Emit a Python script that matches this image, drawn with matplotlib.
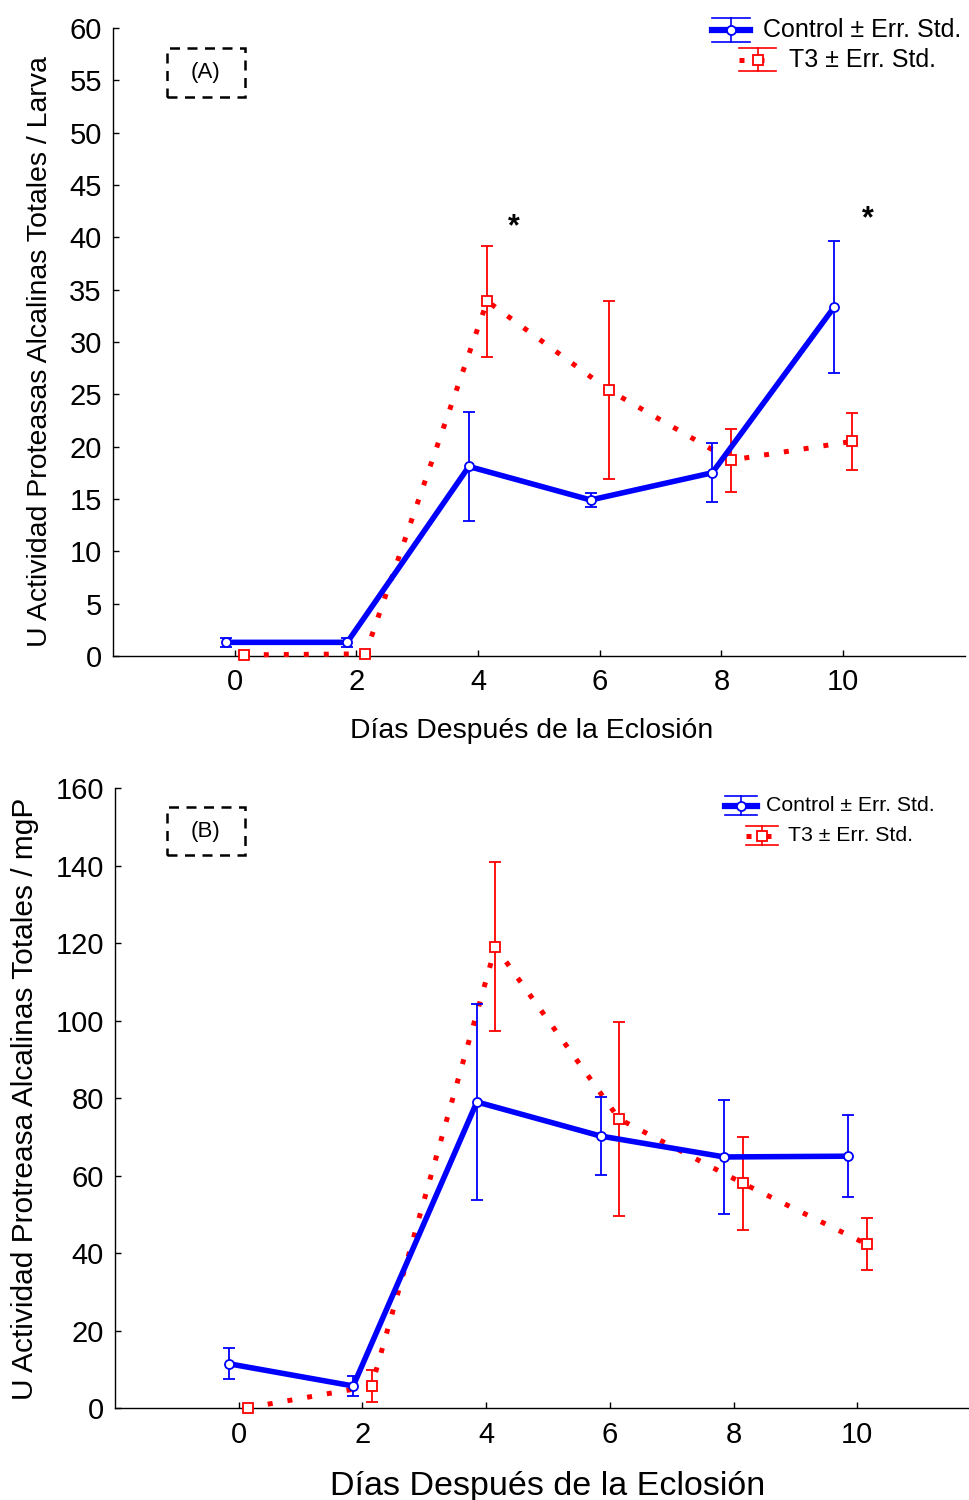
import numpy as np
import matplotlib
matplotlib.use("Agg")
import matplotlib.pyplot as plt
from matplotlib.patches import Rectangle
from matplotlib.lines import Line2D

plt.rcParams['font.family'] = ['Liberation Sans', 'DejaVu Sans']

days = [0, 2, 4, 6, 8, 10]
shift = 0.15

# Panel A: U / Larva
ctrl_a = [1.3, 1.3, 18.1, 14.9, 17.5, 33.3]
ctrl_a_err = [0.4, 0.4, 5.2, 0.7, 2.8, 6.3]
t3_a = [0.1, 0.2, 33.9, 25.4, 18.7, 20.5]
t3_a_err = [0.0, 0.0, 5.3, 8.5, 3.0, 2.7]
stars_a = [(4.59, 41.0), (10.41, 41.7)]

# Panel B: U / mgP
ctrl_b = [11.4, 5.7, 79.0, 70.2, 64.8, 65.0]
ctrl_b_err = [4.0, 2.6, 25.3, 10.0, 14.8, 10.6]
t3_b = [0.1, 5.7, 119.0, 74.6, 58.0, 42.3]
t3_b_err = [0.0, 4.2, 21.8, 25.0, 12.0, 6.8]

xlabel = 'Días Después de la Eclosión'
ylabel_a = 'U Actividad Proteasas Alcalinas Totales / Larva'
ylabel_b = 'U Actividad Protreasa Alcalinas Totales / mgP'
legend_labels = ['Control ± Err. Std.', 'T3 ± Err. Std.']

BLUE = '#0000ff'
RED = '#ff0000'


def draw_series(ax, ctrl, ctrl_err, t3, t3_err):
    xc = np.array(days) - shift
    xt = np.array(days) + shift
    ax.errorbar(xt, t3, yerr=t3_err, color=RED, lw=3.6, ls=(0, (1, 3)),
                dash_capstyle='butt', marker='s', ms=6.5, mfc='white', mec=RED,
                mew=1.3, ecolor=RED, elinewidth=1.3, capsize=4.5, capthick=1.3,
                zorder=3, clip_on=False)
    ax.errorbar(xc, ctrl, yerr=ctrl_err, color=BLUE, lw=4, marker='o', ms=6.5,
                mfc='white', mec=BLUE, mew=1.3, ecolor=BLUE, elinewidth=1.3,
                capsize=4.5, capthick=1.3, zorder=4, clip_on=False)


def draw_legend(ax, entries, fs):
    # entries: (x0, x1, yc, half, text_x) in axes fraction
    for i, (x0, x1, yc, half, tx) in enumerate(entries):
        col = BLUE if i == 0 else RED
        xm = (x0 + x1) / 2
        if i == 0:
            ax.add_line(Line2D([x0, x1], [yc, yc], color=col, lw=4.5,
                               transform=ax.transAxes, clip_on=False))
            mk = 'o'
        else:
            ax.add_line(Line2D([x0, x1], [yc, yc], color=col, lw=3.6,
                               ls=(0, (1, 3)), dash_capstyle='butt',
                               transform=ax.transAxes, clip_on=False))
            mk = 's'
        for yy in (yc - half, yc + half):
            ax.add_line(Line2D([x0, x1], [yy, yy], color=col, lw=1.2,
                               transform=ax.transAxes, clip_on=False))
        ax.add_line(Line2D([xm, xm], [yc - half, yc + half], color=col, lw=1.2,
                           transform=ax.transAxes, clip_on=False))
        ax.add_line(Line2D([xm], [yc], marker=mk, ms=6.5, mfc='white', mec=col,
                           mew=1.3, transform=ax.transAxes, clip_on=False))
        ax.text(tx, yc, legend_labels[i], transform=ax.transAxes, fontsize=fs,
                ha='left', va='center')


def style_axes(ax, ylim, ystep, tick_fs):
    ax.set_xlim(-2, 12)
    ax.set_ylim(*ylim)
    ax.set_xticks(days)
    ax.set_yticks(np.arange(ylim[0], ylim[1] + 1, ystep))
    for s in ('top', 'right'):
        ax.spines[s].set_visible(False)
    for s in ('left', 'bottom'):
        ax.spines[s].set_linewidth(1.0)
    ax.tick_params(direction='in', length=4, width=1.0, labelsize=tick_fs)
    ax.tick_params(axis='y', pad=8)
    ax.tick_params(axis='x', pad=9)


fig = plt.figure(figsize=(9.69, 15), dpi=100)

# ---- panel A
ax1 = fig.add_axes([0.1166, 0.5627, 0.879, 0.4187])
draw_series(ax1, ctrl_a, ctrl_a_err, t3_a, t3_a_err)
style_axes(ax1, (0, 60), 5, 21)
for sx, sy in stars_a:
    ax1.text(sx, sy, '*', fontsize=22, fontweight='bold', ha='center', va='center')
ax1.add_patch(Rectangle((0.063, 0.89), 0.092, 0.078, transform=ax1.transAxes,
                        fill=False, ls=(0, (4, 3)), lw=1.8, ec='black'))
ax1.text(0.109, 0.929, '(A)', transform=ax1.transAxes, fontsize=16,
         ha='center', va='center')
ax1.set_xlabel(xlabel, fontsize=20.4, va='center')
ax1.xaxis.set_label_coords(0.492, -0.12)
ax1.set_ylabel(ylabel_a, fontsize=20.5, va='center')
ax1.yaxis.set_label_coords(-0.0857, 0.484)
draw_legend(ax1, [(0.703, 0.748, 0.9968, 0.0191, 0.763),
                  (0.735, 0.779, 0.9490, 0.0183, 0.794)], 18)

# ---- panel B
ax2 = fig.add_axes([0.1187, 0.0613, 0.8937, 0.4133])
draw_series(ax2, ctrl_b, ctrl_b_err, t3_b, t3_b_err)
style_axes(ax2, (0, 160), 20, 21)
ax2.add_patch(Rectangle((0.060, 0.892), 0.090, 0.077, transform=ax2.transAxes,
                        fill=False, ls=(0, (4, 3)), lw=1.8, ec='black'))
ax2.text(0.105, 0.930, '(B)', transform=ax2.transAxes, fontsize=16,
         ha='center', va='center')
ax2.set_xlabel(xlabel, fontsize=24.5, va='center')
ax2.xaxis.set_label_coords(0.5, -0.126)
ax2.set_ylabel(ylabel_b, fontsize=21.5, va='center')
ax2.yaxis.set_label_coords(-0.104, 0.499)
draw_legend(ax2, [(0.704, 0.741, 0.9714, 0.0153, 0.752),
                  (0.729, 0.766, 0.9230, 0.0153, 0.777)], 15.3)

fig.savefig('out.png', dpi=100)
